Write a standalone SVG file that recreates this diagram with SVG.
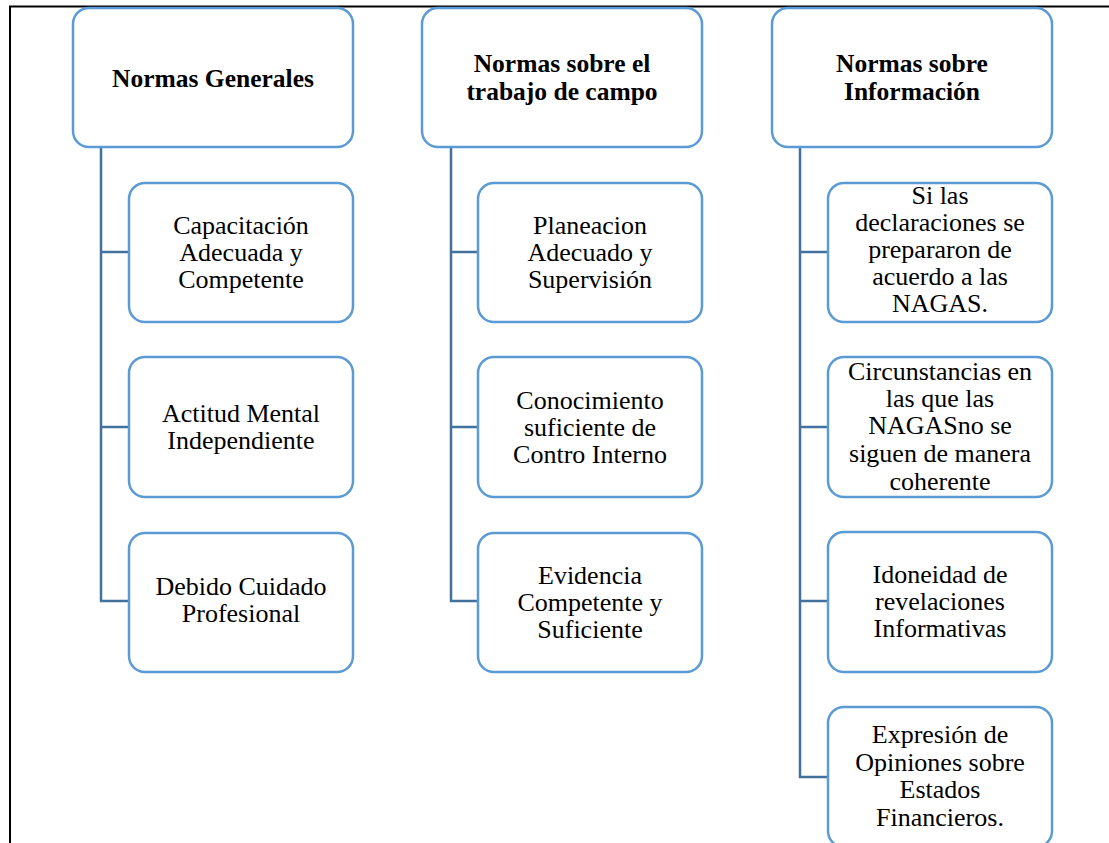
<svg xmlns="http://www.w3.org/2000/svg" width="1109" height="843" viewBox="0 0 1109 843">
<style>
.frame{stroke:#000;stroke-width:2;fill:none}
.box{fill:#fff;stroke:#5B9BD5;stroke-width:2.5}
.conn{fill:none;stroke:#41719C;stroke-width:2.5}
text{font-family:"Liberation Serif","Times New Roman",serif;font-size:26px;fill:#000;text-anchor:middle}
.h{font-weight:bold;font-size:25.5px}
</style>
<rect width="1109" height="843" fill="#fff"/>
<g id="frame">
<line class="frame" x1="9" y1="6.5" x2="1109" y2="6.5"/>
<line class="frame" x1="10" y1="6" x2="10" y2="843"/>
</g>
<g id="connectors">
<path class="conn" d="M101,147 V601 H129 M101,252 H129 M101,427 H129"/>
<path class="conn" d="M451,147 V601 H478 M451,252 H478 M451,427 H478"/>
<path class="conn" d="M800,147 V777 H828 M800,252 H828 M800,427 H828 M800,601 H828"/>
</g>
<g id="h1"><rect class="box" x="73" y="8" width="280" height="139" rx="16"/><text class="h" x="213" y="87">Normas Generales</text></g>
<g id="h2"><rect class="box" x="422" y="8" width="280" height="139" rx="16"/><text class="h" x="562" y="72">Normas sobre el</text><text class="h" x="562" y="100">trabajo de campo</text></g>
<g id="h3"><rect class="box" x="772" y="8" width="280" height="139" rx="16"/><text class="h" x="912" y="72">Normas sobre</text><text class="h" x="912" y="100">Información</text></g>

<g id="c1a"><rect class="box" x="129" y="183" width="224" height="139" rx="16"/><text x="241" y="234">Capacitación</text><text x="241" y="261">Adecuada y</text><text x="241" y="288">Competente</text></g>
<g id="c1b"><rect class="box" x="129" y="357" width="224" height="140" rx="16"/><text x="241" y="422">Actitud Mental</text><text x="241" y="449">Independiente</text></g>
<g id="c1c"><rect class="box" x="129" y="533" width="224" height="139" rx="16"/><text x="241" y="595">Debido Cuidado</text><text x="241" y="622">Profesional</text></g>

<g id="c2a"><rect class="box" x="478" y="183" width="224" height="139" rx="16"/><text x="590" y="234">Planeacion</text><text x="590" y="261">Adecuado y</text><text x="590" y="288">Supervisión</text></g>
<g id="c2b"><rect class="box" x="478" y="357" width="224" height="140" rx="16"/><text x="590" y="409">Conocimiento</text><text x="590" y="436">suficiente de</text><text x="590" y="463">Contro Interno</text></g>
<g id="c2c"><rect class="box" x="478" y="533" width="224" height="139" rx="16"/><text x="590" y="584">Evidencia</text><text x="590" y="611">Competente y</text><text x="590" y="638">Suficiente</text></g>

<g id="c3a"><rect class="box" x="828" y="183" width="224" height="139" rx="16"/><text x="940" y="204">Si las</text><text x="940" y="231">declaraciones se</text><text x="940" y="258">prepararon  de</text><text x="940" y="285">acuerdo a las</text><text x="940" y="312">NAGAS.</text></g>
<g id="c3b"><rect class="box" x="828" y="357" width="224" height="140" rx="16"/><text x="940" y="380">Circunstancias en</text><text x="940" y="407">las que las</text><text x="940" y="434">NAGASno se</text><text x="940" y="462">siguen de manera</text><text x="940" y="490">coherente</text></g>
<g id="c3c"><rect class="box" x="828" y="532" width="224" height="140" rx="16"/><text x="940" y="583">Idoneidad de</text><text x="940" y="610">revelaciones</text><text x="940" y="637">Informativas</text></g>
<g id="c3d"><rect class="box" x="828" y="707" width="224" height="140" rx="16"/><text x="940" y="743">Expresión de</text><text x="940" y="771">Opiniones sobre</text><text x="940" y="798">Estados</text><text x="940" y="826">Financieros.</text></g>
</svg>
